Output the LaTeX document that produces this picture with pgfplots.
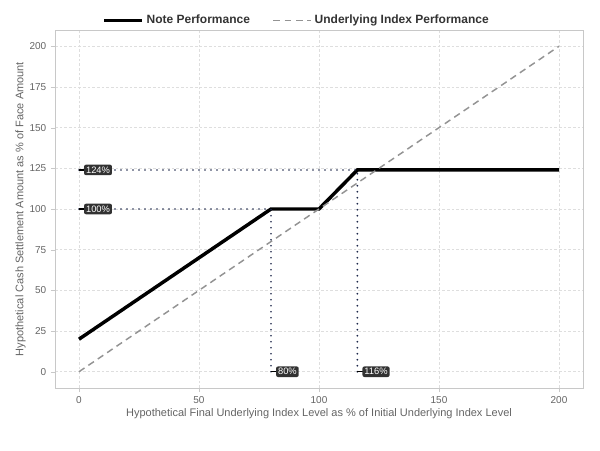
\documentclass[border=0pt]{standalone}
\usepackage{pgfplots}
\pgfplotsset{compat=1.18}
\usepackage{fontspec}
\setmainfont{Liberation Sans}
\definecolor{navy}{RGB}{30,40,75}
\definecolor{tickgray}{RGB}{100,100,100}
\definecolor{gridgray}{RGB}{222,222,222}
\definecolor{boxgray}{RGB}{200,200,200}
\definecolor{lblbg}{RGB}{50,50,50}
\begin{document}
\begin{tikzpicture}
\path[use as bounding box] (-41.25pt,-46.5pt) rectangle (408.75pt,291pt);
\begin{axis}[
  scale only axis, width=396pt, height=268.5pt,
  xmin=-10, xmax=210, ymin=-10, ymax=210,
  xtick={0,50,100,150,200}, ytick={0,25,50,75,100,125,150,175,200},
  grid=major,
  major grid style={gridgray, line width=0.4pt, dash pattern=on 2pt off 1.5pt},
  axis line style={boxgray},
  tick style={boxgray},
  major tick length=3pt,
  tick align=outside,
  xtick pos=bottom, ytick pos=left,
  ticklabel style={font=\fontsize{7.5}{9}\selectfont, text=tickgray},
  /pgf/number format/assume math mode=true,
  xlabel={Hypothetical Final Underlying Index Level as \% of Initial Underlying Index Level},
  ylabel={Hypothetical Cash Settlement Amount as \% of Face Amount},
  label style={font=\fontsize{8.25}{9}\selectfont, text=tickgray},
  xlabel style={yshift=3pt},
  ylabel style={yshift=-4pt},
  legend style={at={(0.5,1)}, anchor=south, yshift=-1pt, xshift=-16.5pt, draw=none, fill=none, legend columns=2,
    font=\bfseries\fontsize{9}{10}\selectfont, text=black!80,
    /tikz/every even column/.append style={column sep=15pt}},
  legend image code/.code={\draw[#1] (0pt,0pt) -- (1cm,0pt);},
  clip=false,
]
\addplot[black, line width=2.6pt] coordinates {(0,20) (80,100) (100,100) (116,124) (200,124)};
\addlegendentry{Note Performance}
\addplot[gray!85, line width=1.1pt, dash pattern=on 5pt off 3.5pt] coordinates {(0,0) (200,200)};
\addlegendentry{Underlying Index Performance}
\tikzset{dots/.style={navy, line width=1.4pt, line cap=round, dash pattern=on 0pt off 4.5pt}}
\addplot[dots, forget plot] coordinates {(0,124) (116,124)};
\addplot[dots, forget plot] coordinates {(0,100) (80,100)};
\addplot[dots, forget plot] coordinates {(80,0) (80,100)};
\addplot[dots, forget plot] coordinates {(116,0) (116,124)};
\addplot[black, line width=1pt, forget plot] coordinates {(0,124) (3,124)};
\addplot[black, line width=1pt, forget plot] coordinates {(0,100) (3,100)};
\addplot[black, line width=1pt, forget plot] coordinates {(80,0) (83,0)};
\addplot[black, line width=1pt, forget plot] coordinates {(116,0) (119,0)};
\tikzset{lbl/.style={fill=lblbg, text=white, rounded corners=1.5pt, inner sep=1.5pt, anchor=west, font=\fontsize{7}{8}\selectfont}}
\node[lbl] at (axis cs:2,124) {124\%};
\node[lbl] at (axis cs:2,100) {100\%};
\node[lbl] at (axis cs:82,0) {80\%};
\node[lbl] at (axis cs:118,0) {116\%};
\end{axis}
\end{tikzpicture}
\end{document}
